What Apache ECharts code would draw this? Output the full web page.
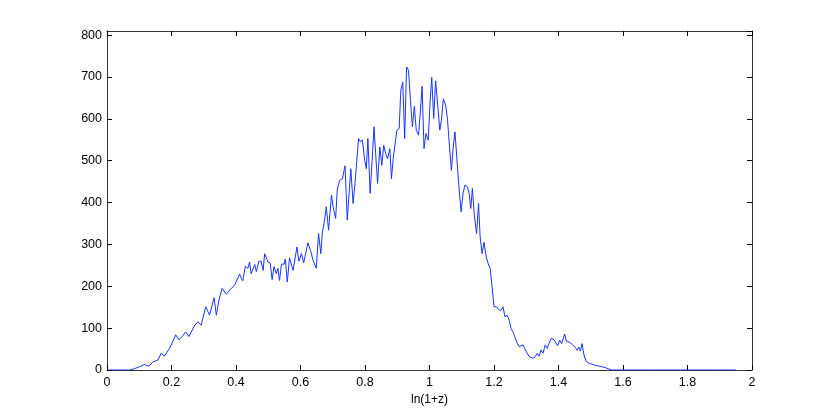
<!DOCTYPE html>
<html>
<head>
<meta charset="utf-8">
<script src="https://cdn.jsdelivr.net/npm/echarts@6/dist/echarts.min.js"></script>
<style>html,body{margin:0;padding:0;background:#fff}#c{width:830px;height:417px}</style>
</head>
<body>
<div id="c"></div>
<script>
const xs = [0.000,0.070,0.085,0.101,0.116,0.130,0.142,0.158,0.168,0.178,0.194,0.204,0.213,0.223,0.233,0.244,0.254,0.272,0.282,0.292,0.306,0.318,0.332,0.339,0.347,0.357,0.370,0.383,0.396,0.411,0.421,0.429,0.437,0.442,0.447,0.458,0.463,0.471,0.478,0.484,0.489,0.499,0.506,0.512,0.518,0.525,0.530,0.535,0.541,0.549,0.553,0.559,0.566,0.577,0.589,0.595,0.603,0.610,0.616,0.623,0.631,0.639,0.649,0.656,0.663,0.668,0.673,0.680,0.687,0.696,0.701,0.709,0.714,0.721,0.730,0.738,0.745,0.756,0.763,0.769,0.775,0.780,0.786,0.792,0.799,0.804,0.809,0.816,0.822,0.828,0.833,0.839,0.846,0.852,0.858,0.864,0.870,0.877,0.882,0.888,0.894,0.899,0.906,0.911,0.917,0.923,0.929,0.935,0.941,0.947,0.953,0.959,0.966,0.972,0.977,0.983,0.989,0.996,1.002,1.007,1.013,1.019,1.026,1.032,1.037,1.043,1.050,1.056,1.062,1.068,1.073,1.079,1.086,1.092,1.098,1.104,1.110,1.117,1.123,1.128,1.133,1.139,1.146,1.152,1.157,1.163,1.169,1.176,1.182,1.188,1.194,1.200,1.208,1.214,1.221,1.228,1.234,1.241,1.247,1.253,1.259,1.266,1.272,1.278,1.284,1.290,1.297,1.303,1.309,1.315,1.321,1.328,1.334,1.340,1.346,1.352,1.359,1.365,1.371,1.378,1.386,1.392,1.397,1.404,1.410,1.419,1.425,1.435,1.444,1.451,1.458,1.463,1.468,1.473,1.479,1.485,1.492,1.503,1.513,1.523,1.534,1.544,1.554,1.565,1.600,1.700,1.800,1.900,1.950];
const ys = [0,0,3,8,13,9,19,24,40,33,52,68,84,72,80,91,80,107,115,107,151,131,173,131,167,195,181,193,203,229,213,248,243,258,230,252,235,260,260,238,278,258,256,216,247,230,243,214,253,253,265,210,268,238,294,260,278,256,278,304,286,262,243,326,278,330,350,390,334,418,390,362,430,453,457,488,358,481,398,446,447,553,545,550,501,481,553,422,501,581,517,446,533,489,537,517,505,529,457,509,505,573,577,668,688,553,724,716,644,581,630,573,561,621,678,529,565,549,644,699,601,691,628,573,597,648,633,597,533,477,529,569,493,430,378,422,442,438,422,386,434,370,326,398,318,278,305,270,254,243,199,151,151,145,142,151,127,131,119,99,91,76,64,56,52,60,48,40,32,32,28,32,40,33,48,40,60,52,64,76,72,68,58,71,63,86,68,66,60,55,47,55,45,63,36,22,17,14,11,10,8,6,3,0,0,0,0,0,0];
const xTicks = [0,0.2,0.4,0.6,0.8,1,1.2,1.4,1.6,1.8,2];
const yTicks = [0,100,200,300,400,500,600,700,800];
const xName = 'ln(1+z)';

const data = xs.map((x, i) => [x, ys[i]]);
const font = 'Liberation Sans, Arial, Helvetica, sans-serif';
const lineCol = '#333';
const fmtX = v => { const r = Math.round(v * 10) / 10; return xTicks.includes(r) ? String(r) : ''; };
const fmtY = v => yTicks.includes(v) ? String(v) : '';

const chart = echarts.init(document.getElementById('c'), null, {renderer: 'canvas'});
const baseX = {
  type: 'value', min: 0, max: 2, interval: 0.2,
  axisLine: {show: true, onZero: false, lineStyle: {color: lineCol, width: 1}},
  axisTick: {show: true, inside: true, length: 5, lineStyle: {color: '#000', width: 1}},
  splitLine: {show: false}
};
const baseY = {
  type: 'value', min: 0, max: 810, interval: 100,
  axisLine: {show: true, onZero: false, lineStyle: {color: lineCol, width: 1}},
  axisTick: {show: true, inside: true, length: 5, lineStyle: {color: '#000', width: 1}},
  splitLine: {show: false}
};
chart.setOption({
  animation: false,
  backgroundColor: '#fff',
  grid: {left: 107, right: 78, top: 31, bottom: 47, containLabel: false},
  xAxis: [
    Object.assign({}, baseX, {
      position: 'bottom',
      name: xName, nameLocation: 'middle', nameGap: 22,
      nameTextStyle: {fontFamily: font, fontSize: 12, color: '#000'},
      axisLabel: {show: true, margin: 6, fontFamily: font, fontSize: 12.5, color: '#000', formatter: fmtX}
    }),
    Object.assign({}, baseX, {position: 'top', axisLabel: {show: false}})
  ],
  yAxis: [
    Object.assign({}, baseY, {
      position: 'left',
      axisLabel: {show: true, margin: 5, fontFamily: font, fontSize: 12.5, color: '#000', formatter: fmtY, showMaxLabel: false}
    }),
    Object.assign({}, baseY, {position: 'right', axisLabel: {show: false}})
  ],
  series: [{
    type: 'line',
    xAxisIndex: 0, yAxisIndex: 0,
    data: data,
    showSymbol: false,
    symbol: 'none',
    lineStyle: {color: '#1a33ff', width: 1},
    itemStyle: {color: '#1a33ff'}
  }]
});
</script>
</body>
</html>
